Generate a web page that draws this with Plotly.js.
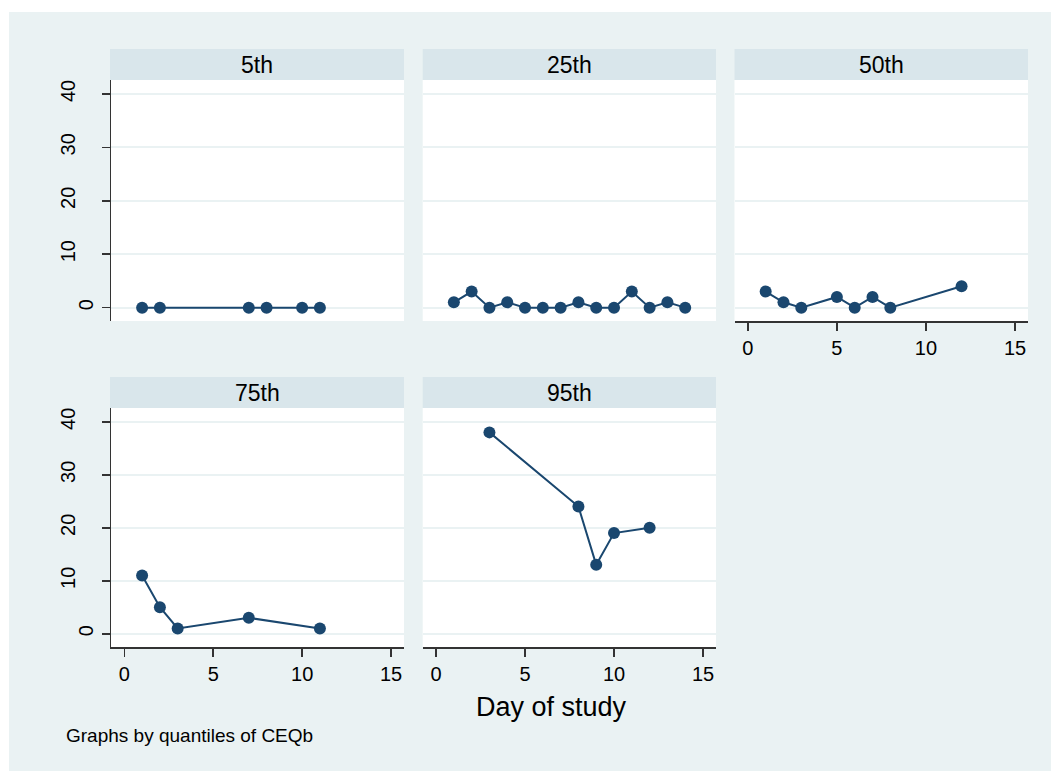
<!DOCTYPE html>
<html>
<head>
<meta charset="utf-8">
<script src="https://cdn.plot.ly/plotly-3.0.1.min.js"></script>
<style>html,body{margin:0;padding:0;background:#fff;}#chart{width:1051px;height:771px;}</style>
</head>
<body>
<div id="chart"></div>
<script>
// ---- data ----
const panelNames = ['5th', '25th', '50th', '75th', '95th'];
const day5  = [1, 2, 7, 8, 10, 11];
const val5  = [0, 0, 0, 0, 0, 0];
const day25 = [1, 2, 3, 4, 5, 6, 7, 8, 9, 10, 11, 12, 13, 14];
const val25 = [1, 3, 0, 1, 0, 0, 0, 1, 0, 0, 3, 0, 1, 0];
const day50 = [1, 2, 3, 5, 6, 7, 8, 12];
const val50 = [3, 1, 0, 2, 0, 2, 0, 4];
const day75 = [1, 2, 3, 7, 11];
const val75 = [11, 5, 1, 3, 1];
const day95 = [3, 8, 9, 10, 12];
const val95 = [38, 24, 13, 19, 20];
const xTickVals = [0, 5, 10, 15];
const yTickVals = [0, 10, 20, 30, 40];
const xTitle = 'Day of study';
const noteText = 'Graphs by quantiles of CEQb';

// ---- layout geometry (pixels) ----
const W = 1051, H = 771;
const cols = [[111, 404], [422.7, 716], [734.5, 1028]];
const rows = [[80, 321], [408, 647]];
const stripH = 31;
const px2x = p => p / W;
const px2y = p => 1 - p / H;

const navy = '#1a476f';
const font = 'Arial, "Liberation Sans", sans-serif';
const allDays = [day5, day25, day50, day75, day95];
const allVals = [val5, val25, val50, val75, val95];
// panel placement: [col,row], whether it shows x axis, y axis
const place = [[0, 0, false, true], [1, 0, false, false], [2, 0, true, false], [0, 1, true, true], [1, 1, true, false]];

const traces = [];
const layout = {
  width: W, height: H,
  margin: {l: 0, r: 0, t: 0, b: 0, pad: 0},
  paper_bgcolor: '#eaf2f3',
  plot_bgcolor: '#ffffff',
  showlegend: false,
  font: {family: font, color: '#000000'},
  shapes: [
    {type: 'rect', xref: 'paper', yref: 'paper', x0: 0, x1: 1, y0: px2y(12), y1: 1,
     fillcolor: '#ffffff', line: {width: 0}, layer: 'below'},
    {type: 'rect', xref: 'paper', yref: 'paper', x0: 0, x1: px2x(9), y0: 0, y1: 1,
     fillcolor: '#ffffff', line: {width: 0}, layer: 'below'}
  ],
  annotations: []
};

const tickFont = {size: 20, family: font, color: '#000000'};
let extraAxis = 6;

panelNames.forEach((name, i) => {
  const [c, r, showX, showY] = place[i];
  const k = i === 0 ? '' : String(i + 1);
  traces.push({
    type: 'scatter', mode: 'lines+markers',
    x: allDays[i], y: allVals[i],
    xaxis: 'x' + k, yaxis: 'y' + k,
    line: {color: navy, width: 2},
    marker: {color: navy, size: 12},
    cliponaxis: false,
    hoverinfo: 'x+y'
  });
  const yDomain = [px2y(rows[r][1]), px2y(rows[r][0])];
  const yRange = [-2.5, 42.6];
  layout['xaxis' + k] = {
    domain: [px2x(cols[c][0]), px2x(cols[c][1])],
    range: [-0.75, 15.73],
    anchor: 'y' + k,
    tickvals: xTickVals,
    ticktext: xTickVals.map(String),
    showticklabels: showX,
    ticks: showX ? 'outside' : '',
    ticklen: 8, tickwidth: 1.5, tickcolor: '#333333',
    showline: showX, linecolor: '#333333', linewidth: 1.5,
    showgrid: false, zeroline: false,
    tickfont: tickFont,
    ticklabelstandoff: 0,
    fixedrange: true
  };
  layout['yaxis' + k] = {
    domain: yDomain,
    range: yRange,
    anchor: 'x' + k,
    tickvals: yTickVals,
    // single-digit labels sit closer to the axis (drawn by an overlay axis below)
    ticktext: yTickVals.map(v => String(v).length > 1 ? String(v) : ''),
    showticklabels: showY,
    ticks: showY ? 'outside' : '',
    ticklen: 8, tickwidth: 1.5, tickcolor: '#333333',
    tickangle: -90,
    showline: showY, linecolor: '#333333', linewidth: 1.5,
    showgrid: true, gridcolor: '#eaf2f3', gridwidth: 2,
    zeroline: false,
    tickfont: tickFont,
    ticklabelstandoff: 19,
    fixedrange: true
  };
  if (showY) {
    const ek = String(extraAxis++);
    const shortVals = yTickVals.filter(v => String(v).length === 1);
    layout['yaxis' + ek] = {
      domain: yDomain,
      range: yRange,
      anchor: 'x' + k,
      overlaying: 'y' + k,
      tickvals: shortVals,
      ticktext: shortVals.map(String),
      showticklabels: true,
      ticks: 'outside',
      ticklen: 8, tickwidth: 1.5, tickcolor: '#333333',
      tickangle: -90,
      showline: false, showgrid: false, zeroline: false,
      tickfont: tickFont,
      ticklabelstandoff: 1,
      fixedrange: true
    };
    traces.push({type: 'scatter', mode: 'markers', x: [], y: [],
      xaxis: 'x' + k, yaxis: 'y' + ek, hoverinfo: 'skip'});
  }
  // strip header
  const sx0 = cols[c][0] - (c === 0 ? 1 : 0), sx1 = cols[c][1];
  const sy1 = rows[r][0], sy0 = sy1 - stripH;
  layout.shapes.push({type: 'rect', xref: 'paper', yref: 'paper',
    x0: px2x(sx0), x1: px2x(sx1), y0: px2y(sy1), y1: px2y(sy0),
    fillcolor: '#d9e6eb', line: {width: 0}, layer: 'below'});
  layout.annotations.push({xref: 'paper', yref: 'paper',
    x: px2x((sx0 + sx1) / 2), y: px2y((sy0 + sy1) / 2),
    xanchor: 'center', yanchor: 'middle', showarrow: false,
    text: name, font: {size: 23, family: font, color: '#000000'}});
});

layout.annotations.push({xref: 'paper', yref: 'paper', x: px2x(551), y: px2y(707),
  xanchor: 'center', yanchor: 'middle', showarrow: false,
  text: xTitle, font: {size: 27, family: font, color: '#000000'}});
layout.annotations.push({xref: 'paper', yref: 'paper', x: px2x(64), y: px2y(735),
  xanchor: 'left', yanchor: 'middle', showarrow: false,
  text: noteText, font: {size: 19, family: font, color: '#000000'}});

Plotly.newPlot('chart', traces, layout, {displayModeBar: false, staticPlot: true});
</script>
</body>
</html>
